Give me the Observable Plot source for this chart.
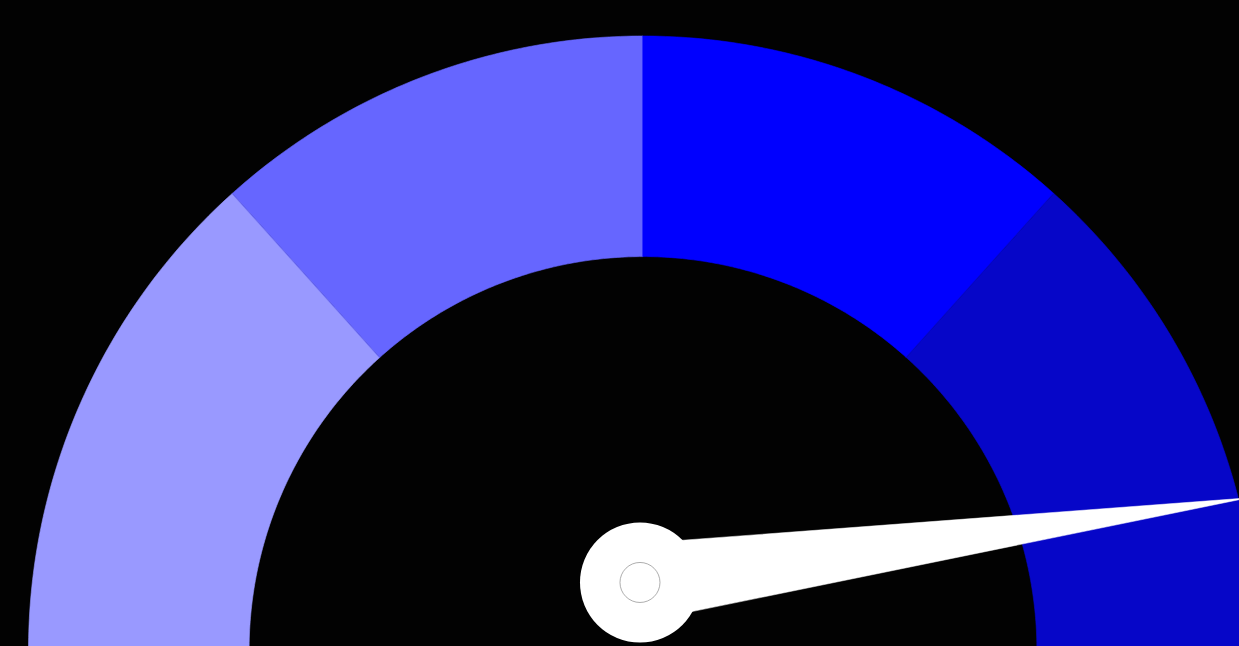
<!DOCTYPE html>
<html>
<head>
<meta charset="utf-8">
<script src="https://cdn.jsdelivr.net/npm/d3@7"></script>
<script src="https://cdn.jsdelivr.net/npm/@observablehq/plot@0.6"></script>
<style>
  html, body { margin: 0; padding: 0; background: #020202; overflow: hidden; }
  #chart svg { display: block; }
</style>
</head>
<body>
<div id="chart"></div>
<script>
// ---- data ----
const gaugeMin = 0;
const gaugeMax = 100;
const bandNames = ["band1", "band2", "band3", "band4"];
const bandStarts = [0, 26.7, 50, 73.3];
const bandEnds = [26.7, 50, 73.3, 100];
const needleValue = 95.6;

// ---- geometry helpers (in gauge units: outer radius = 1) ----
const W = 1239, H = 646;
const innerRadius = 0.641;
const hub = {x: -0.0049, y: 0.1107};
const needleHalfWidth = 0.0635;
const needleLength = 0.999;
const angleOf = v => Math.PI * (1 - (v - gaugeMin) / (gaugeMax - gaugeMin));

const bandPoints = [];
bandNames.forEach((name, i) => {
  const a0 = angleOf(bandStarts[i]), a1 = angleOf(bandEnds[i]);
  const n = 80;
  for (let k = 0; k <= n; k++) {
    const a = a0 + (a1 - a0) * k / n;
    bandPoints.push({band: name, x: Math.cos(a), y: Math.sin(a)});
  }
  for (let k = n; k >= 0; k--) {
    const a = a0 + (a1 - a0) * k / n;
    bandPoints.push({band: name, x: innerRadius * Math.cos(a), y: innerRadius * Math.sin(a)});
  }
});

const na = angleOf(needleValue);
const needlePoints = [
  {x: hub.x - needleHalfWidth * Math.sin(na), y: hub.y + needleHalfWidth * Math.cos(na)},
  {x: hub.x + needleLength * Math.cos(na), y: hub.y + needleLength * Math.sin(na)},
  {x: hub.x + needleHalfWidth * Math.sin(na), y: hub.y - needleHalfWidth * Math.cos(na)}
];

const plot = Plot.plot({
  width: W,
  height: H,
  margin: 0,
  style: {background: "#020202"},
  x: {domain: [-1.04557, 0.97071], range: [0, W], axis: null},
  y: {domain: [0.00651, 1.05777], range: [H, 0], axis: null},
  color: {domain: bandNames, range: ["#9999ff", "#6666ff", "#0000ff", "#0606c8"]},
  marks: [
    Plot.line(bandPoints, {x: "x", y: "y", z: "band", fill: "band", stroke: "band", strokeWidth: 0.6, curve: "linear-closed"}),
    Plot.line(needlePoints, {x: "x", y: "y", fill: "white", stroke: "white", strokeWidth: 0.5, curve: "linear-closed"}),
    Plot.dot([hub], {x: "x", y: "y", r: 60, fill: "white", stroke: "none"}),
    Plot.dot([hub], {x: "x", y: "y", r: 20, fill: "white", stroke: "#777", strokeWidth: 0.6})
  ]
});
document.getElementById("chart").appendChild(plot);
</script>
</body>
</html>
